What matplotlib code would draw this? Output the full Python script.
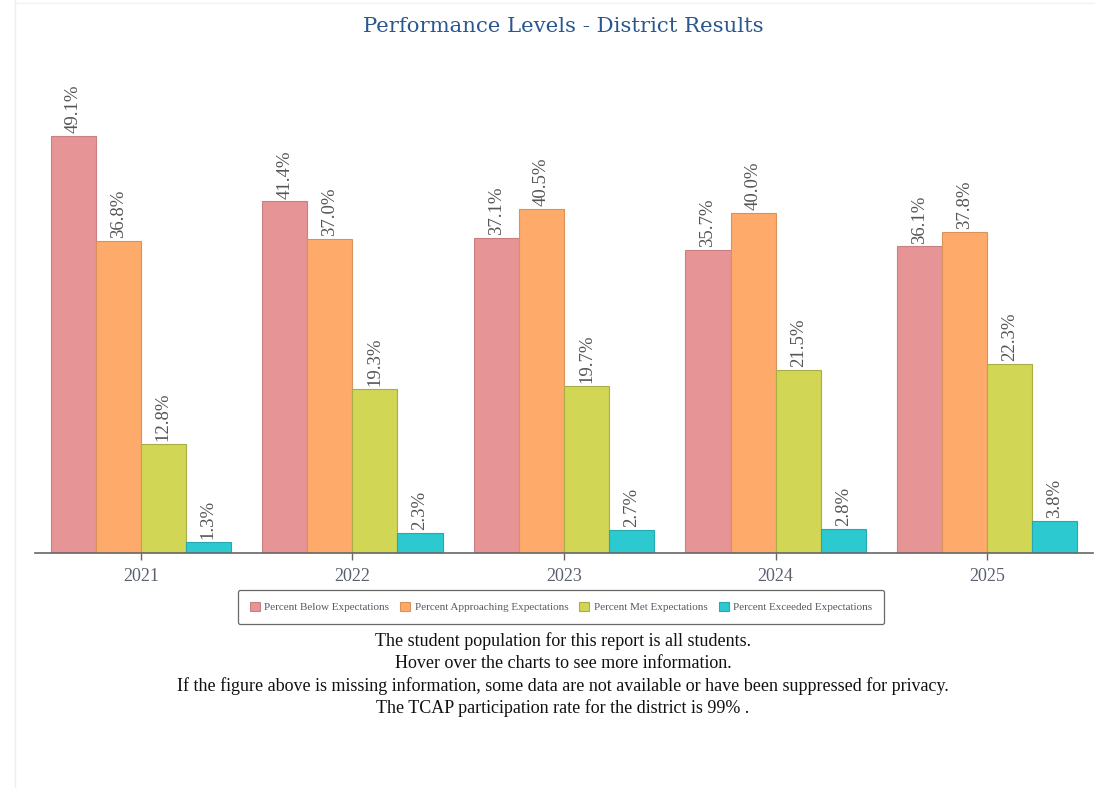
import numpy as np
import matplotlib.pyplot as plt
from matplotlib.lines import Line2D

years = ['2021', '2022', '2023', '2024', '2025']
below = [49.1, 41.4, 37.1, 35.7, 36.1]
approaching = [36.8, 37.0, 40.5, 40.0, 37.8]
met = [12.8, 19.3, 19.7, 21.5, 22.3]
exceeded = [1.3, 2.3, 2.7, 2.8, 3.8]

series_names = ['Percent Below Expectations', 'Percent Approaching Expectations',
                'Percent Met Expectations', 'Percent Exceeded Expectations']
colors = ['#E79496', '#FDAA6A', '#D2D655', '#2CC9D1']
edges = ['#c98083', '#d9925a', '#a9ad45', '#25a9b0']

footer = ['The student population for this report is all students.',
          'Hover over the charts to see more information.',
          'If the figure above is missing information, some data are not available or have been suppressed for privacy.',
          'The TCAP participation rate for the district is 99% .']

fig = plt.figure(figsize=(10.95, 7.88), dpi=100)
ax = fig.add_axes([35 / 1095, 1 - 553 / 788, 1058 / 1095, (553 - 86) / 788])

x = np.arange(len(years))
w = 0.213
data = [below, approaching, met, exceeded]
for i, vals in enumerate(data):
    pos = x + (i - 1.5) * w
    ax.bar(pos, vals, width=w, color=colors[i], edgecolor=edges[i],
           linewidth=0.8, label=series_names[i])
    for xp, v in zip(pos, vals):
        ax.text(xp, v + 0.35, f'{v:.1f}%', rotation=90, ha='center', va='bottom',
                family='Liberation Serif', fontsize=13.5, color='#555555')

ax.set_xlim(-0.5, 4.5)
ax.set_ylim(0, 55)
ax.set_yticks([])
ax.set_xticks(x)
ax.set_xticklabels(years, family='Liberation Serif', fontsize=13, color='#5a6070')
ax.tick_params(axis='x', length=5, width=1, color='#666666', pad=6)
for s in ['top', 'right', 'left']:
    ax.spines[s].set_visible(False)
ax.spines['bottom'].set_color('#666666')
ax.spines['bottom'].set_linewidth(1.2)

handles = [plt.Rectangle((0, 0), 1, 1, facecolor=c, edgecolor=e, linewidth=0.8)
           for c, e in zip(colors, edges)]
leg = fig.legend(handles, series_names, loc='center', bbox_to_anchor=(561 / 1095, 1 - 607 / 788),
                 ncol=4, prop={'family': 'Liberation Serif', 'size': 8},
                 frameon=True, fancybox=True, handlelength=0.9, handleheight=0.9,
                 handletextpad=0.4, columnspacing=1.0, borderpad=1.05)
leg.get_frame().set_edgecolor('#444444')
leg.get_frame().set_linewidth(0.9)
for t in leg.get_texts():
    t.set_color('#555a66')

fig.text(563 / 1095, 1 - 27 / 788, 'Performance Levels - District Results', ha='center', va='center',
         family='DejaVu Serif', fontsize=15.3, color='#2a5790')

for k, line in enumerate(footer):
    fig.text(563 / 1095, 1 - (641 + 22.3 * k) / 788, line, ha='center', va='center',
             family='Liberation Serif', fontsize=13, color='#111111')

fig.add_artist(Line2D([15 / 1095, 15 / 1095], [0, 1], color='#eeeeee', linewidth=1))
fig.add_artist(Line2D([15 / 1095, 1], [1 - 3 / 788, 1 - 3 / 788], color='#f2f2f2', linewidth=1))

fig.savefig('out.png', dpi=100)
